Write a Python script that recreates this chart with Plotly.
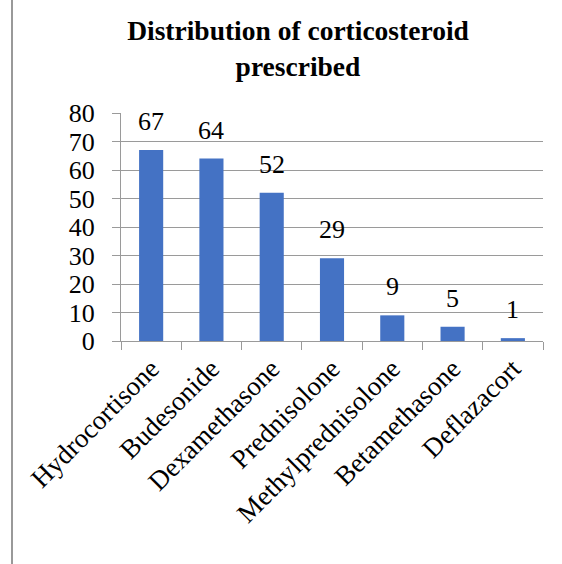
import plotly.graph_objects as go

# Corticosteroid prescriptions by drug
drugs = ["Hydrocortisone", "Budesonide", "Dexamethasone", "Prednisolone",
         "Methylprednisolone", "Betamethasone", "Deflazacort"]
counts = [67, 64, 52, 29, 9, 5, 1]
y_ticks = [0, 10, 20, 30, 40, 50, 60, 70, 80]

W, H = 562, 564
L, R, T, B = 121, 19, 113, 223
SERIF = "Liberation Serif"
GRID = "#9a9a9a"

fig = go.Figure()
fig.add_trace(go.Bar(
    x=drugs, y=counts,
    marker=dict(color="#4472C4", line=dict(width=0)),
    width=0.4,
    hoverinfo="x+y",
))

# value labels above each bar
for d, c in zip(drugs, counts):
    fig.add_annotation(x=d, y=c, text=str(c), showarrow=False,
                       yanchor="bottom", yshift=12,
                       font=dict(family=SERIF, size=26, color="#000000"))

# left frame edge
plot_w = W - L - R
fig.add_shape(type="line", xref="paper", yref="paper",
              x0=(12 - L) / plot_w, x1=(12 - L) / plot_w,
              y0=-B / (H - T - B), y1=1 + T / (H - T - B),
              line=dict(color="#999999", width=2))

fig.update_layout(
    width=W, height=H,
    margin=dict(l=L, r=R, t=T, b=B, autoexpand=False),
    paper_bgcolor="white", plot_bgcolor="white",
    showlegend=False,
    font=dict(family=SERIF, color="#000000"),
    title=dict(text="<b>Distribution of corticosteroid<br>prescribed</b>",
               x=298 / W, xanchor="center", xref="container",
               y=1 - 40 / H, yanchor="top", yref="container",
               font=dict(family=SERIF, size=27.5, color="#000000")),
)
fig.update_xaxes(
    type="category",
    tickangle=-45,
    tickfont=dict(family=SERIF, size=27, color="#000000"),
    showline=True, linecolor=GRID, linewidth=1,
    ticks="outside", tickson="boundaries", ticklen=8, tickcolor=GRID,
    showgrid=False,
)
fig.update_yaxes(
    range=[0, 80], tickvals=y_ticks,
    tickfont=dict(family=SERIF, size=26, color="#000000"),
    showgrid=True, gridcolor=GRID, gridwidth=1,
    showline=True, linecolor=GRID, linewidth=1,
    ticks="outside", ticklen=8, tickcolor=GRID,
    ticklabelstandoff=12,
    zeroline=False,
)

fig.write_html("out.html")
